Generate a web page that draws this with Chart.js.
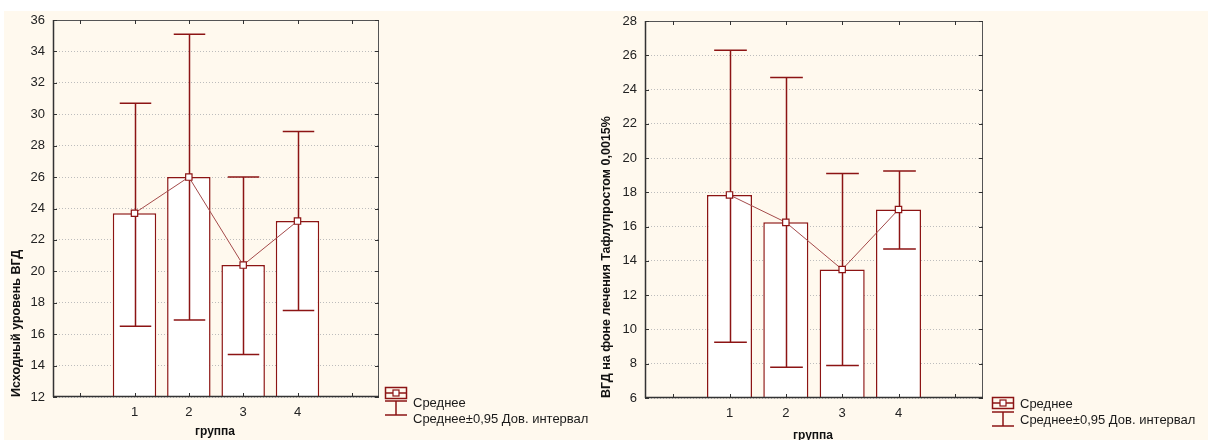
<!DOCTYPE html>
<html><head><meta charset="utf-8">
<script src="https://cdn.jsdelivr.net/npm/chart.js@4.4.1/dist/chart.umd.min.js"></script>
<style>
html,body{margin:0;padding:0;background:#fff;}
#wrap{position:relative;width:1208px;height:440px;overflow:hidden;background:#fff;}
#bg{position:absolute;left:4px;top:11px;width:1204px;height:429px;background:#FFF9EE;}
.c{position:absolute;top:0;height:440px;}
</style></head><body>
<div id="wrap"><div id="bg"></div>
<div class="c" style="left:0;width:604px"><canvas id="c1" width="604" height="440"></canvas></div>
<div class="c" style="left:580px;width:628px"><canvas id="c2" width="628" height="440"></canvas></div>
</div>
<script>
// ---- data ----
const categories = ['1', '2', '3', '4'];
const meanBase  = [23.7, 26.0, 20.4, 23.2];
const upperBase = [30.7, 35.1, 26.0, 28.9];
const lowerBase = [16.5, 16.9, 14.7, 17.5];
const meanTreat  = [17.85, 16.25, 13.5, 17.0];
const upperTreat = [26.3, 24.7, 19.1, 19.25];
const lowerTreat = [9.25, 7.8, 7.9, 14.7];
const yTicksBase  = [12, 14, 16, 18, 20, 22, 24, 26, 28, 30, 32, 34, 36];
const yTicksTreat = [6, 8, 10, 12, 14, 16, 18, 20, 22, 24, 26, 28];
const yTitleBase  = 'Исходный уровень ВГД';
const yTitleTreat = 'ВГД на фоне лечения Тафлупростом 0,0015%';
const xTitle = 'группа';
const legendLabels = ['Среднее', 'Среднее±0,95 Дов. интервал'];

const RED = '#8c1414';
const LINE = '#a44a4a';
const FONT = '"Liberation Sans", Arial, sans-serif';

const decorPlugin = {
  id: 'decor',
  beforeDatasetDraw(chart, args, opts) {
    if (args.index !== 1) return;
    const ctx = chart.ctx, x = chart.scales.x, y = chart.scales.y;
    const half = 0.29 * (x.getPixelForValue(2) - x.getPixelForValue(1));
    ctx.save();
    ctx.strokeStyle = RED; ctx.lineWidth = 1.5;
    opts.lower.forEach((lo, i) => {
      const px = Math.round(x.getPixelForValue(i + 1)) + 0.5;
      const pl = y.getPixelForValue(lo), pu = y.getPixelForValue(opts.upper[i]);
      ctx.beginPath();
      ctx.moveTo(px, pl); ctx.lineTo(px, pu);
      ctx.moveTo(px - half, pu); ctx.lineTo(px + half, pu);
      ctx.moveTo(px - half, pl); ctx.lineTo(px + half, pl);
      ctx.stroke();
    });
    ctx.restore();
  },
  afterDraw(chart, args, opts) {
    const ctx = chart.ctx, a = chart.chartArea, x = chart.scales.x, y = chart.scales.y;
    ctx.save();
    // frame
    ctx.strokeStyle = '#555'; ctx.lineWidth = 1;
    ctx.beginPath();
    ctx.moveTo(a.left, a.top + 0.5); ctx.lineTo(a.right, a.top + 0.5);
    ctx.moveTo(a.right - 0.5, a.top); ctx.lineTo(a.right - 0.5, a.bottom);
    ctx.stroke();
    ctx.strokeStyle = '#333'; ctx.lineWidth = 1.5;
    ctx.beginPath();
    ctx.moveTo(a.left + 0.5, a.top); ctx.lineTo(a.left + 0.5, a.bottom);
    ctx.moveTo(a.left, a.bottom - 0.5); ctx.lineTo(a.right, a.bottom - 0.5);
    ctx.stroke();
    // inward ticks
    ctx.strokeStyle = '#333'; ctx.lineWidth = 1;
    ctx.beginPath();
    for (let i = 0; i <= 5; i++) {
      const px = Math.round(x.getPixelForValue(i)) + 0.5;
      ctx.moveTo(px, a.top); ctx.lineTo(px, a.top + 4);
      ctx.moveTo(px, a.bottom); ctx.lineTo(px, a.bottom - 4);
    }
    y.ticks.forEach(t => {
      const py = Math.round(y.getPixelForValue(t.value)) + 0.5;
      ctx.moveTo(a.right, py); ctx.lineTo(a.right - 4, py);
      ctx.moveTo(a.left, py); ctx.lineTo(a.left + 4, py);
    });
    ctx.stroke();
    // titles
    ctx.fillStyle = '#111';
    ctx.font = 'bold 12px ' + FONT;
    ctx.textAlign = 'center'; ctx.textBaseline = 'alphabetic';
    ctx.fillText(xTitle, opts.xTitleX, opts.xTitleY);
    ctx.save();
    ctx.font = 'bold 12.5px ' + FONT;
    ctx.translate(opts.yTitleX, a.bottom);
    ctx.rotate(-Math.PI / 2);
    ctx.textAlign = 'left'; ctx.textBaseline = 'middle';
    ctx.fillText(opts.yTitle, 0, 0);
    ctx.restore();
    // legend
    const L = opts.legend;
    ctx.strokeStyle = RED; ctx.lineWidth = 1.5;
    ctx.strokeRect(L.x + 0.5, L.boxTop + 0.5, 21, 11);
    ctx.beginPath();
    ctx.moveTo(L.x, L.boxTop + 6); ctx.lineTo(L.x + 22, L.boxTop + 6);
    ctx.stroke();
    ctx.fillStyle = '#fff'; ctx.lineWidth = 1.2;
    ctx.fillRect(L.x + 8, L.boxTop + 3, 6, 6);
    ctx.strokeRect(L.x + 8, L.boxTop + 3, 6, 6);
    ctx.lineWidth = 1.5;
    ctx.beginPath();
    ctx.moveTo(L.x, L.errTop); ctx.lineTo(L.x + 22, L.errTop);
    ctx.moveTo(L.x + 11, L.errTop); ctx.lineTo(L.x + 11, L.errTop + 14);
    ctx.moveTo(L.x, L.errTop + 14); ctx.lineTo(L.x + 22, L.errTop + 14);
    ctx.stroke();
    ctx.fillStyle = '#1a1a1a';
    ctx.font = '13px ' + FONT;
    ctx.textAlign = 'left'; ctx.textBaseline = 'middle';
    ctx.fillText(legendLabels[0], L.x + 28, L.t1);
    ctx.fillText(legendLabels[1], L.x + 28, L.t2);
    ctx.restore();
  }
};

function makeChart(id, mean, lower, upper, yTicks, cfg) {
  const labels = [''].concat(categories, ['']);
  return new Chart(document.getElementById(id), {
    data: {
      labels: labels,
      datasets: [
        { type: 'bar', data: [null].concat(mean, [null]), backgroundColor: '#ffffff',
          borderColor: RED, borderWidth: 1.5, barPercentage: 0.8, categoryPercentage: 1.0, order: 2 },
        { type: 'line', data: [null].concat(mean, [null]), borderColor: LINE, borderWidth: 1,
          pointStyle: 'rect', pointRadius: 4.5, pointBackgroundColor: '#ffffff',
          pointBorderColor: RED, pointBorderWidth: 1.2, order: 1, spanGaps: false }
      ]
    },
    options: {
      responsive: false, animation: false, devicePixelRatio: 1, events: [],
      layout: { padding: { left: cfg.padLeft, right: 225, top: cfg.top, bottom: 0 } },
      plugins: {
        legend: { display: false }, tooltip: { enabled: false },
        decor: { lower: lower, upper: upper, yTitle: cfg.yTitle, yTitleX: cfg.yTitleX,
                 xTitleX: cfg.xTitleX, xTitleY: cfg.xTitleY, legend: cfg.legend }
      },
      scales: {
        x: { type: 'category', offset: true,
             grid: { display: false, drawTicks: false }, border: { display: false },
             ticks: { color: '#222', font: { family: FONT, size: 13 }, padding: 8, maxRotation: 0, autoSkip: false },
             afterFit: s => { s.height = cfg.xH; } },
        y: { type: 'linear', min: yTicks[0], max: yTicks[yTicks.length - 1],
             afterBuildTicks: s => { s.ticks = yTicks.map(v => ({ value: v })); },
             grid: { color: '#bdbdbd', lineWidth: 1, drawTicks: false },
             border: { display: false, dash: [1, 2] },
             ticks: { color: '#222', font: { family: FONT, size: 13 }, padding: 8 },
             afterFit: s => { s.width = cfg.yW; } }
      }
    },
    plugins: [decorPlugin]
  });
}

makeChart('c1', meanBase, lowerBase, upperBase, yTicksBase, {
  padLeft: 13, yW: 40, top: 20, xH: 43, yTitle: yTitleBase, yTitleX: 17,
  xTitleX: 215, xTitleY: 435,
  legend: { x: 385, boxTop: 387, errTop: 401, t1: 403, t2: 419 }
});
makeChart('c2', meanTreat, lowerTreat, upperTreat, yTicksTreat, {
  padLeft: 29, yW: 36, top: 21, xH: 42, yTitle: yTitleTreat, yTitleX: 27,
  xTitleX: 233, xTitleY: 439,
  legend: { x: 412, boxTop: 397, errTop: 412, t1: 404, t2: 420 }
});
</script>
</body></html>
